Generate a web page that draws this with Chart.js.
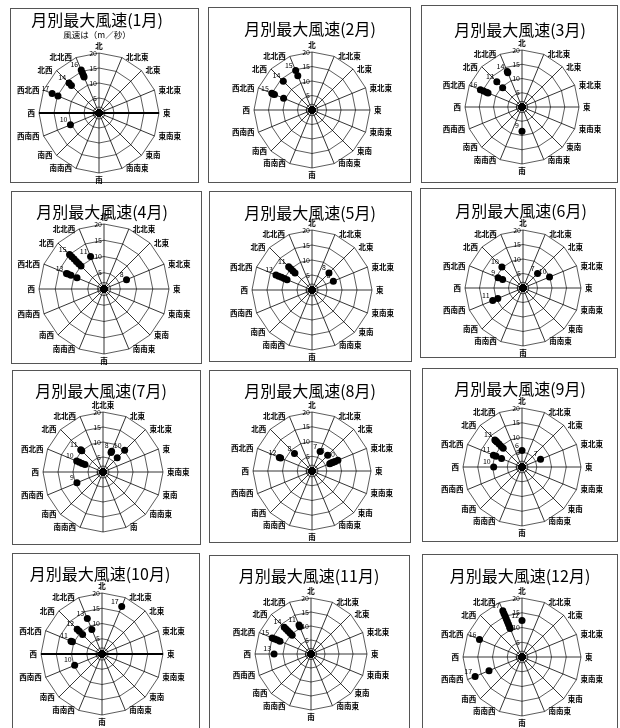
<!DOCTYPE html>
<html><head><meta charset="utf-8">
<script src="https://cdn.jsdelivr.net/npm/chart.js@4"></script>
<style>
body{margin:0;background:#fff;width:620px;height:728px;position:relative;overflow:hidden;font-family:"Noto Sans CJK JP",sans-serif;color:#000}
.box{position:absolute;border:1px solid #555;box-sizing:border-box}
.title{position:absolute;font-size:16px;white-space:nowrap;transform:translate(-50%,-50%);line-height:1}
.sub{position:absolute;font-size:8.5px;white-space:nowrap;transform:translate(-50%,-50%);line-height:1}
.cv{position:absolute}
</style></head><body>
<script>
// 16 compass directions (clockwise from north)
const directions = ["北","北北東","北東","東北東","東","東南東","東南","南南東","南","南南西","南西","西南西","西","西北西","北西","北北西"];
// July panel labels are shifted in the original
const directionsJul = ["北北東","北東","東北東","東","東南東","東南","南南東","南","","南南西","南西","西南西","西","西北西","北西","北北西"];
const tickValues = [0,5,10,15,20];
const monthNames = ["1月","2月","3月","4月","5月","6月","7月","8月","9月","10月","11月","12月"];

// maximum wind speeds (m/s) per direction, one list per direction
const jan = [[],[],[],[],[],[],[],[],[],[],[],[10.3],[],[16.9,14.8],[14.1,13],[15.5,14.5,13.5,13]];
const feb = [[],[],[],[],[],[],[],[],[],[],[],[],[],[15,14.5,14,10.6],[14],[14.7,12.8]];
const mar = [[],[],[],[],[],[],[],[],[8.5],[],[],[],[],[15.8,14.6,13.5,12.9],[12.5,9.6],[13.5,13]];
const apr = [[],[],[],[7.5],[],[],[],[],[],[],[],[],[],[12.5,12,11,9],[15,14,13,12,11,10],[10.8]];
const may = [[],[],[8],[7.7],[],[],[],[],[],[],[],[],[],[13,12,11,10,9],[11,10,9,8],[]];
const jun = [[],[],[7.1],[9.9],[],[],[],[],[],[],[],[11.3,9.4],[],[9.3,7.6],[10.3],[]];
const jul = [[],[7.5,7],[10.2,6.7],[],[],[],[],[],[],[],[],[9.4],[],[9.5,8.5,7.5,6.5],[10.5,10],[]];
const aug = [[],[7.2],[7.5],[9.5,8.5,8,7.5,7,6.5],[],[],[],[],[],[],[],[],[],[12,11.5],[8.4],[]];
const sep = [[5.6],[],[],[6.8],[],[],[],[],[],[],[],[],[9.6],[10.5,9.5,7.5],[13,12.5,12,11,10,9],[]];
const oct = [[],[16.9],[],[],[],[],[],[],[],[],[],[9.7],[],[11,10.5],[11.5,10.5,9],[12.6,8.7]];
const nov = [[],[],[],[],[],[],[],[],[],[],[],[],[13.2],[15,14,13,12],[13.5,12.5,11.5,10.5,9.5],[11.2,10.5]];
const dec = [[12.4],[],[],[],[],[],[],[],[],[],[],[17.2,12.1],[],[15.6],[],[17,16,15,14,13,12,11,10.5]];
const months = [jan,feb,mar,apr,may,jun,jul,aug,sep,oct,nov,dec];
// grid rings (includes the small inner ring seen in the original)
const gridValues = [0,2,5,10,15,20];

// panel layout: box [x,y,w,h], centre, radius, title y
const panels = [
 {box:[10,8,189,175], c:[99,113], R:60, ty:19},
 {box:[208,7,203,176], c:[312,110], R:58, ty:28},
 {box:[421,5,197,178], c:[522,107], R:57, ty:29},
 {box:[11,191,191,173], c:[104,289], R:65, ty:211},
 {box:[209,191,203,171], c:[312,290], R:60, ty:212},
 {box:[420,188,196,170], c:[523,288], R:58, ty:210},
 {box:[12,370,189,175], c:[103,472], R:60, ty:390},
 {box:[209,370,202,173], c:[312,471], R:59, ty:390},
 {box:[422,368,196,174], c:[522,467], R:59, ty:388},
 {box:[12,553,188,190], c:[102,654], R:61, ty:573},
 {box:[209,555,201,190], c:[311,654], R:56, ty:575},
 {box:[422,554,196,190], c:[522,657], R:59, ty:575}
];

const FONT = '"Noto Sans CJK JP", sans-serif';
function makeDecor(vals){
  return {
    id:'decor',
    afterDatasetsDraw(chart){
      const s = chart.scales.r, ctx = chart.ctx, labels = chart.data.labels, n = labels.length;
      ctx.save();
      ctx.fillStyle = '#000';
      // direction labels
      ctx.font = 'bold 7.5px ' + FONT;
      labels.forEach((t,i)=>{
        const p = s.getPointPosition(i, s.drawingArea);
        const ang = i*360/n;
        let x = p.x, y = p.y;
        if (ang === 0) { ctx.textAlign='center'; ctx.textBaseline='bottom'; y -= 3; }
        else if (ang === 180) { ctx.textAlign='center'; ctx.textBaseline='top'; y += 3; }
        else if (ang < 180) { ctx.textAlign='left'; ctx.textBaseline='middle'; x += 4; }
        else { ctx.textAlign='right'; ctx.textBaseline='middle'; x -= 4; }
        ctx.fillText(t, x, y);
      });
      // value axis labels
      ctx.font = '7px ' + FONT;
      ctx.textAlign='right'; ctx.textBaseline='middle';
      tickValues.forEach(v=>{
        const d = s.getDistanceFromCenterForValue(v);
        ctx.fillText(String(v), s.xCenter-2, s.yCenter-d);
      });
      // data labels at outermost value per direction
      ctx.textAlign='right'; ctx.textBaseline='bottom';
      vals.forEach((list,i)=>{
        if (!list.length) return;
        const v = Math.max(...list);
        const p = s.getPointPositionForValue(i, v);
        ctx.fillText(String(Math.round(v)), p.x-3, p.y-2);
      });
      ctx.restore();
    }
  };
}

panels.forEach((pn,k)=>{
  const b = document.createElement('div');
  b.className='box';
  Object.assign(b.style,{left:pn.box[0]+'px',top:pn.box[1]+'px',width:pn.box[2]+'px',height:pn.box[3]+'px'});
  document.body.appendChild(b);

  const P = 32, S = 2*pn.R + 2*P;
  const cv = document.createElement('canvas');
  cv.className='cv'; cv.width=S; cv.height=S;
  Object.assign(cv.style,{left:(pn.c[0]-pn.R-P)+'px',top:(pn.c[1]-pn.R-P)+'px',width:S+'px',height:S+'px'});
  document.body.appendChild(cv);

  const t = document.createElement('div');
  t.className='title'; t.textContent='月別最大風速(' + monthNames[k] + ')';
  Object.assign(t.style,{left:(pn.c[0]-2)+'px',top:pn.ty+'px'});
  document.body.appendChild(t);
  if (k===0){
    const s2 = document.createElement('div');
    s2.className='sub'; s2.textContent='風速は（m／秒）';
    Object.assign(s2.style,{left:(pn.c[0]-2)+'px',top:'34px'});
    document.body.appendChild(s2);
  }

  const vals = months[k];
  const nSets = Math.max(...vals.map(l=>l.length));
  const datasets = [];
  for (let j=0;j<nSets;j++){
    datasets.push({
      data: vals.map(l => l[j] !== undefined ? l[j] : 0),
      showLine:false, fill:false, borderWidth:0,
      backgroundColor:'rgba(0,0,0,0)', borderColor:'rgba(0,0,0,0)',
      pointRadius:3.5, pointStyle:'circle',
      pointBackgroundColor:'#000', pointBorderColor:'#000', pointBorderWidth:0
    });
  }
  const thick = (k===0 || k===9);
  new Chart(cv,{
    type:'radar',
    data:{labels:(k===6?directionsJul:directions), datasets},
    options:{
      responsive:false, animation:false, devicePixelRatio:1,
      layout:{padding:P},
      plugins:{legend:{display:false}, tooltip:{enabled:false}},
      elements:{line:{borderWidth:0, fill:false}},
      scales:{r:{
        min:0, max:20,
        ticks:{display:false, stepSize:5},
        afterBuildTicks: sc => { sc.ticks = gridValues.map(v => ({value:v})); },
        pointLabels:{display:false},
        grid:{color:'#333', lineWidth:0.8},
        angleLines:{color:'#000', lineWidth: c => (thick && (c.index===4||c.index===12)) ? 2 : 0.8}
      }}
    },
    plugins:[makeDecor(vals)]
  });
});
</script>
</body></html>
